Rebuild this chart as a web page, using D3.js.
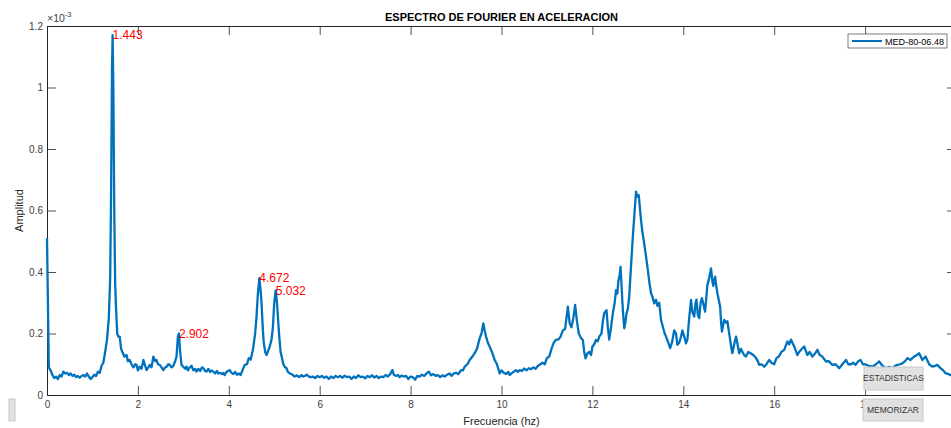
<!DOCTYPE html>
<html>
<head>
<meta charset="utf-8">
<script src="https://cdn.jsdelivr.net/npm/d3@7"></script>
<style>
  html, body { margin: 0; padding: 0; background: #fff; }
  svg { display: block; font-family: "Liberation Sans", Arial, Helvetica, sans-serif; }
</style>
</head>
<body>
<svg id="chart" width="951" height="428"></svg>
<script>
// ── Data (amplitude in units of 1e-3) ─────────────────────
const freq = [
  0, 0.02, 0.04, 0.08, 0.12, 0.16, 0.2, 0.24, 0.28, 0.32, 0.36, 0.4, 0.44, 0.48, 0.52, 0.56, 0.6, 0.64, 0.68, 0.72,
  0.76, 0.8, 0.84, 0.88, 0.92, 0.96, 1.0, 1.04, 1.08, 1.12, 1.16, 1.2, 1.24, 1.28, 1.32, 1.36, 1.39, 1.41, 1.43, 1.443,
  1.46, 1.48, 1.5, 1.52, 1.545, 1.57, 1.6, 1.63, 1.67, 1.7, 1.75, 1.78, 1.82, 1.86, 1.9, 1.94, 1.97, 2.0, 2.04, 2.08,
  2.12, 2.16, 2.19, 2.23, 2.26, 2.3, 2.34, 2.38, 2.41, 2.44, 2.48, 2.52, 2.56, 2.6, 2.63, 2.67, 2.7, 2.74, 2.78, 2.82,
  2.85, 2.88, 2.902, 2.93, 2.96, 3.0, 3.04, 3.07, 3.1, 3.14, 3.18, 3.22, 3.26, 3.29, 3.33, 3.37, 3.41, 3.44, 3.48, 3.51,
  3.55, 3.59, 3.62, 3.66, 3.7, 3.74, 3.77, 3.81, 3.85, 3.88, 3.91, 3.95, 3.98, 4.02, 4.06, 4.1, 4.14, 4.18, 4.22, 4.26,
  4.3, 4.35, 4.4, 4.44, 4.48, 4.53, 4.58, 4.61, 4.64, 4.672, 4.7, 4.72, 4.75, 4.77, 4.8, 4.83, 4.87, 4.9, 4.94, 4.97,
  5.0, 5.032, 5.06, 5.08, 5.11, 5.14, 5.17, 5.2, 5.24, 5.27, 5.3, 5.34, 5.38, 5.41, 5.45, 5.5, 5.55, 5.6, 5.63, 5.67,
  5.72, 5.76, 5.8, 5.85, 5.9, 5.95, 6.0, 6.05, 6.1, 6.15, 6.2, 6.25, 6.3, 6.35, 6.4, 6.45, 6.5, 6.55, 6.6, 6.65,
  6.7, 6.75, 6.8, 6.85, 6.9, 6.95, 7.0, 7.05, 7.1, 7.15, 7.2, 7.25, 7.3, 7.35, 7.4, 7.45, 7.5, 7.55, 7.6, 7.63,
  7.68, 7.72, 7.76, 7.8, 7.85, 7.9, 7.95, 8.0, 8.05, 8.1, 8.15, 8.2, 8.25, 8.3, 8.35, 8.4, 8.45, 8.5, 8.55, 8.6,
  8.65, 8.7, 8.75, 8.8, 8.86, 8.9, 8.95, 9.0, 9.05, 9.11, 9.15, 9.19, 9.25, 9.3, 9.36, 9.41, 9.46, 9.52, 9.56, 9.6,
  9.63, 9.66, 9.7, 9.74, 9.79, 9.85, 9.9, 9.96, 10.0, 10.05, 10.1, 10.15, 10.18, 10.22, 10.27, 10.32, 10.36, 10.4, 10.45, 10.5,
  10.55, 10.6, 10.65, 10.7, 10.75, 10.8, 10.84, 10.9, 10.95, 11.0, 11.05, 11.1, 11.15, 11.2, 11.25, 11.3, 11.35, 11.4, 11.46, 11.5,
  11.54, 11.58, 11.62, 11.66, 11.7, 11.75, 11.79, 11.82, 11.85, 11.89, 11.93, 11.97, 12.0, 12.04, 12.08, 12.12, 12.15, 12.2, 12.23, 12.26,
  12.31, 12.34, 12.37, 12.41, 12.45, 12.49, 12.52, 12.55, 12.57, 12.6, 12.62, 12.65, 12.67, 12.7, 12.73, 12.75, 12.78, 12.81, 12.85, 12.89,
  12.93, 12.96, 12.99, 13.02, 13.05, 13.07, 13.1, 13.14, 13.18, 13.22, 13.25, 13.29, 13.32, 13.36, 13.4, 13.43, 13.47, 13.51, 13.55, 13.59,
  13.62, 13.67, 13.71, 13.75, 13.8, 13.84, 13.87, 13.91, 13.95, 13.98, 14.02, 14.06, 14.09, 14.13, 14.17, 14.2, 14.24, 14.27, 14.29, 14.32,
  14.35, 14.38, 14.41, 14.45, 14.48, 14.53, 14.57, 14.61, 14.64, 14.66, 14.7, 14.72, 14.75, 14.78, 14.81, 14.83, 14.85, 14.88, 14.9, 14.94,
  14.97, 15.0, 15.03, 15.06, 15.08, 15.12, 15.16, 15.2, 15.23, 15.27, 15.3, 15.34, 15.38, 15.43, 15.48, 15.54, 15.6, 15.64, 15.67, 15.72,
  15.78, 15.83, 15.89, 15.94, 16.0, 16.05, 16.1, 16.16, 16.22, 16.29, 16.33, 16.37, 16.44, 16.51, 16.55, 16.59, 16.66, 16.73, 16.78, 16.84,
  16.9, 16.95, 17.0, 17.06, 17.14, 17.2, 17.28, 17.35, 17.43, 17.5, 17.58, 17.63, 17.69, 17.74, 17.79, 17.85, 17.9, 17.95, 18.0, 18.08,
  18.16, 18.24, 18.31, 18.38, 18.46, 18.53, 18.6, 18.66, 18.71, 18.77, 18.82, 18.88, 18.93, 19.0, 19.04, 19.08, 19.14, 19.19, 19.26, 19.33,
  19.41, 19.48, 19.54, 19.59, 19.66, 19.72, 19.77, 19.83, 19.87, 19.93, 20.0
];
const amp = [
  0.51, 0.30, 0.09, 0.08, 0.065, 0.055, 0.06, 0.052, 0.065, 0.06, 0.076, 0.07, 0.072, 0.065, 0.07, 0.062, 0.066, 0.058, 0.062, 0.056,
  0.062, 0.065, 0.06, 0.07, 0.06, 0.052, 0.058, 0.066, 0.062, 0.076, 0.072, 0.095, 0.105, 0.14, 0.18, 0.25, 0.38, 0.65, 1.05, 1.17,
  1.0, 0.6, 0.36, 0.28, 0.2, 0.19, 0.19, 0.15, 0.136, 0.125, 0.13, 0.11, 0.114, 0.1, 0.09, 0.1, 0.098, 0.08, 0.092, 0.085,
  0.114, 0.095, 0.081, 0.09, 0.098, 0.09, 0.125, 0.11, 0.114, 0.1, 0.098, 0.09, 0.081, 0.09, 0.092, 0.1, 0.098, 0.09, 0.095, 0.11,
  0.125, 0.19, 0.2, 0.14, 0.098, 0.092, 0.085, 0.092, 0.08, 0.09, 0.095, 0.08, 0.085, 0.076, 0.085, 0.078, 0.09, 0.087, 0.078, 0.076,
  0.085, 0.075, 0.08, 0.076, 0.07, 0.078, 0.07, 0.072, 0.068, 0.072, 0.065, 0.075, 0.078, 0.081, 0.072, 0.068, 0.075, 0.066, 0.07, 0.065,
  0.08, 0.098, 0.1, 0.12, 0.115, 0.146, 0.2, 0.255, 0.33, 0.38, 0.34, 0.3, 0.21, 0.169, 0.14, 0.13, 0.145, 0.157, 0.18, 0.22,
  0.3, 0.34, 0.3, 0.255, 0.19, 0.14, 0.12, 0.1, 0.09, 0.087, 0.075, 0.07, 0.068, 0.065, 0.06, 0.064, 0.058, 0.065, 0.06, 0.062,
  0.066, 0.06, 0.058, 0.06, 0.055, 0.062, 0.058, 0.062, 0.056, 0.06, 0.052, 0.06, 0.055, 0.062, 0.058, 0.062, 0.056, 0.063, 0.058, 0.06,
  0.052, 0.06, 0.055, 0.064, 0.058, 0.06, 0.054, 0.062, 0.058, 0.064, 0.057, 0.062, 0.055, 0.06, 0.058, 0.065, 0.06, 0.068, 0.081, 0.066,
  0.062, 0.065, 0.058, 0.063, 0.06, 0.062, 0.052, 0.06, 0.058, 0.05, 0.062, 0.06, 0.066, 0.062, 0.07, 0.076, 0.064, 0.068, 0.062, 0.065,
  0.058, 0.064, 0.06, 0.066, 0.07, 0.062, 0.07, 0.072, 0.068, 0.081, 0.08, 0.092, 0.1, 0.114, 0.125, 0.136, 0.15, 0.185, 0.2, 0.233,
  0.21, 0.19, 0.17, 0.157, 0.14, 0.114, 0.1, 0.07, 0.08, 0.072, 0.068, 0.075, 0.065, 0.07, 0.076, 0.081, 0.075, 0.081, 0.078, 0.086,
  0.08, 0.087, 0.084, 0.09, 0.085, 0.095, 0.098, 0.105, 0.1, 0.12, 0.125, 0.15, 0.17, 0.18, 0.18, 0.19, 0.21, 0.215, 0.287, 0.233,
  0.22, 0.25, 0.293, 0.24, 0.2, 0.185, 0.179, 0.14, 0.119, 0.135, 0.14, 0.13, 0.157, 0.165, 0.179, 0.175, 0.19, 0.2, 0.24, 0.266,
  0.276, 0.22, 0.18, 0.22, 0.266, 0.3, 0.341, 0.33, 0.37, 0.39, 0.417, 0.33, 0.276, 0.217, 0.24, 0.266, 0.28, 0.32, 0.42, 0.515,
  0.6, 0.661, 0.645, 0.65, 0.6, 0.569, 0.53, 0.493, 0.45, 0.406, 0.37, 0.331, 0.32, 0.298, 0.31, 0.29, 0.3, 0.244, 0.222, 0.2,
  0.19, 0.17, 0.152, 0.17, 0.21, 0.2, 0.163, 0.17, 0.19, 0.21, 0.19, 0.168, 0.18, 0.25, 0.309, 0.27, 0.255, 0.3, 0.31, 0.26,
  0.25, 0.3, 0.315, 0.29, 0.271, 0.358, 0.38, 0.412, 0.37, 0.355, 0.385, 0.36, 0.331, 0.31, 0.287, 0.24, 0.206, 0.23, 0.244, 0.235,
  0.24, 0.21, 0.18, 0.15, 0.136, 0.165, 0.19, 0.16, 0.136, 0.15, 0.14, 0.13, 0.125, 0.14, 0.136, 0.13, 0.12, 0.11, 0.098, 0.1,
  0.092, 0.1, 0.114, 0.105, 0.1, 0.12, 0.125, 0.14, 0.147, 0.174, 0.165, 0.18, 0.158, 0.13, 0.14, 0.147, 0.158, 0.13, 0.14, 0.125,
  0.135, 0.147, 0.13, 0.125, 0.109, 0.11, 0.098, 0.1, 0.087, 0.1, 0.114, 0.1, 0.1, 0.105, 0.098, 0.11, 0.114, 0.1, 0.1, 0.095,
  0.092, 0.1, 0.109, 0.095, 0.087, 0.092, 0.087, 0.095, 0.098, 0.1, 0.103, 0.11, 0.12, 0.114, 0.12, 0.125, 0.13, 0.136, 0.114, 0.125,
  0.1, 0.092, 0.095, 0.098, 0.087, 0.08, 0.071, 0.068, 0.065, 0.066, 0.064
];
const peakFreqs = [1.443, 2.902, 4.672, 5.032];
const peakAmps  = [1.17, 0.20, 0.38, 0.34];
const xTicks = [0, 2, 4, 6, 8, 10, 12, 14, 16, 18, 20];
const yTicks = [0, 0.2, 0.4, 0.6, 0.8, 1, 1.2];
const seriesName = 'MED-80-06.48';

// ── Layout ────────────────────────────────────────────────
const svg = d3.select('#chart');
const axisColor = '#262626';
const lineColor = '#0072bd';

const x = d3.scaleLinear().domain([0, 20]).range([47, 956]);
const y = d3.scaleLinear().domain([0, 1.2]).range([395, 26]);

svg.append('rect').attr('width', 951).attr('height', 428).attr('fill', '#fff');

// Axes (ticks point inward, box on)
const styleAxis = g => {
  g.select('.domain').attr('stroke', axisColor).attr('stroke-width', 1);
  g.selectAll('.tick line').attr('stroke', axisColor).attr('stroke-width', 0.8);
  g.selectAll('.tick text').attr('fill', '#404040').attr('font-size', 10)
    .attr('font-family', '"Liberation Sans", Arial, Helvetica, sans-serif');
};

svg.append('g').attr('transform', `translate(0,${y(0)})`)
  .call(d3.axisBottom(x).tickValues(xTicks).tickFormat(d3.format('d'))
    .tickSizeInner(-9).tickSizeOuter(0).tickPadding(6))
  .call(styleAxis);

svg.append('g').attr('transform', `translate(0,${y(1.2)})`)
  .call(d3.axisTop(x).tickValues(xTicks).tickFormat('')
    .tickSizeInner(-9).tickSizeOuter(0))
  .call(styleAxis);

svg.append('g').attr('transform', `translate(${x(0)},0)`)
  .call(d3.axisLeft(y).tickValues(yTicks).tickFormat(d => d3.format('')(+d.toFixed(1)))
    .tickSizeInner(-9).tickSizeOuter(0).tickPadding(4))
  .call(styleAxis);

svg.append('g').attr('transform', `translate(${x(20)},0)`)
  .call(d3.axisRight(y).tickValues(yTicks).tickFormat('')
    .tickSizeInner(-9).tickSizeOuter(0))
  .call(styleAxis);

// Exponent label
const expo = svg.append('text').attr('x', x(0)).attr('y', 22)
  .attr('fill', '#404040').attr('font-size', 10.5);
expo.append('tspan').text('\u00d710');
expo.append('tspan').attr('dy', -5).attr('font-size', 7.5).text('-3');

// ── Spectrum line ─────────────────────────────────────────
const points = freq.map((f, i) => [f, amp[i]]);
svg.append('path')
  .datum(points)
  .attr('fill', 'none')
  .attr('stroke', lineColor)
  .attr('stroke-width', 2.3)
  .attr('stroke-linejoin', 'round')
  .attr('d', d3.line().x(d => x(d[0])).y(d => y(d[1])));

// Peak labels
svg.append('g').selectAll('text')
  .data(peakFreqs)
  .join('text')
  .attr('x', d => x(d))
  .attr('y', (d, i) => y(peakAmps[i]))
  .attr('dy', '0.35em')
  .attr('fill', '#ff0000')
  .attr('font-size', 12)
  .text(d => d3.format('.3f')(d));

// ── Titles ────────────────────────────────────────────────
svg.append('text').attr('x', (x(0) + x(20)) / 2).attr('y', 21)
  .attr('text-anchor', 'middle').attr('font-weight', 'bold').attr('font-size', 11)
  .attr('fill', '#000').text('ESPECTRO DE FOURIER EN ACELERACION');

svg.append('text').attr('x', (x(0) + x(20)) / 2).attr('y', 425)
  .attr('text-anchor', 'middle').attr('font-size', 11)
  .attr('fill', '#262626').text('Frecuencia (hz)');

svg.append('text').attr('transform', `translate(23,${y(0.6)}) rotate(-90)`)
  .attr('text-anchor', 'middle').attr('font-size', 11)
  .attr('fill', '#262626').text('Amplitud');

// ── Legend ────────────────────────────────────────────────
const lg = svg.append('g').attr('transform', 'translate(848,34)');
lg.append('rect').attr('width', 99).attr('height', 14)
  .attr('fill', '#fff').attr('stroke', axisColor).attr('stroke-width', 0.6);
lg.append('line').attr('x1', 4).attr('x2', 34).attr('y1', 7).attr('y2', 7)
  .attr('stroke', lineColor).attr('stroke-width', 2);
lg.append('text').attr('x', 37).attr('y', 10.5).attr('font-size', 9.5)
  .attr('textLength', 59).attr('lengthAdjust', 'spacingAndGlyphs')
  .attr('fill', '#000').text(seriesName);

// ── UI buttons ────────────────────────────────────────────
const buttons = [
  { label: 'ESTADISTICAS', x: 864, y: 367, w: 59, h: 23 },
  { label: 'MEMORIZAR',    x: 863, y: 399, w: 60, h: 22 }
];
buttons.forEach(b => {
  const g = svg.append('g').attr('transform', `translate(${b.x},${b.y})`);
  g.append('rect').attr('width', b.w).attr('height', b.h)
    .attr('fill', '#e1e1e1').attr('stroke', '#c8c8c8').attr('stroke-width', 1);
  g.append('text').attr('x', b.w / 2).attr('y', b.h / 2).attr('dy', '0.35em')
    .attr('text-anchor', 'middle').attr('font-size', 8.5).attr('fill', '#333')
    .text(b.label);
});
svg.append('rect').attr('x', 9).attr('y', 399).attr('width', 6).attr('height', 22)
  .attr('fill', '#e1e1e1').attr('stroke', '#c8c8c8').attr('stroke-width', 1);
</script>
</body>
</html>
